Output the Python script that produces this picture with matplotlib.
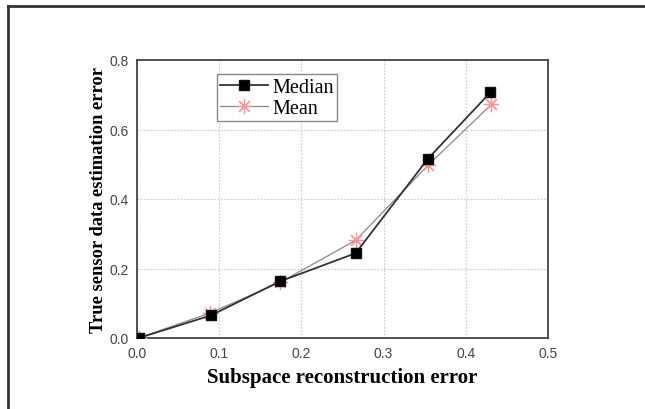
import matplotlib
matplotlib.use("Agg")
import matplotlib.pyplot as plt
from matplotlib.lines import Line2D

x_median = [0.002, 0.090, 0.174, 0.266, 0.354, 0.430]
y_median = [0.000, 0.065, 0.163, 0.244, 0.516, 0.707]
x_mean = [0.002, 0.089, 0.174, 0.266, 0.354, 0.431]
y_mean = [0.000, 0.072, 0.160, 0.281, 0.497, 0.672]
xticks = [0.0, 0.1, 0.2, 0.3, 0.4, 0.5]
yticks = [0.0, 0.2, 0.4, 0.6, 0.8]

fig = plt.figure(figsize=(6.45, 4.10), dpi=100)
ax = fig.add_axes([137/645, 1 - 339/410, 411/645, 278/410])

ax.plot(x_mean, y_mean, color="#888888", lw=0.9, marker=(8, 2, 0), ms=11,
        mec="#f29a9a", mfc="#f29a9a", mew=0.9, label="Mean", zorder=3)
ax.plot(x_median, y_median, color="#333333", lw=1.3, marker="s", ms=7,
        mec="#111111", mfc="black", label="Median", zorder=4)

ax.set_xlim(0, 0.5)
ax.set_ylim(0, 0.8)
ax.set_xticks(xticks)
ax.set_yticks(yticks)
ax.set_xticklabels([f"{v:.1f}" for v in xticks])
ax.set_yticklabels([f"{v:.1f}" for v in yticks])
ax.tick_params(length=0, labelsize=10, labelcolor="#444444")
ax.tick_params(axis="x", pad=6)
ax.tick_params(axis="y", pad=6)
for lbl in ax.get_xticklabels() + ax.get_yticklabels():
    lbl.set_family("Liberation Sans")
ax.grid(True, ls=(0, (1.5, 1.5)), color="#c8c8c8", lw=0.8)
for s in ax.spines.values():
    s.set_color("#444444")
    s.set_linewidth(1.3)

ax.set_xlabel("Subspace reconstruction error", family="Liberation Serif",
              fontweight="bold", fontsize=15, labelpad=5)
ax.set_ylabel("True sensor data estimation error", family="Liberation Serif",
              fontweight="bold", fontsize=13.3, labelpad=2)

handles, labels = ax.get_legend_handles_labels()
leg = ax.legend(handles[::-1], labels[::-1], loc="upper left",
                bbox_to_anchor=(0.195, 0.948), prop={"family": "Liberation Serif", "size": 14.5},
                frameon=True, fancybox=False, framealpha=1, edgecolor="#888888",
                handlelength=2.4, handletextpad=0.2, borderpad=0.15, labelspacing=0.1,
                borderaxespad=0)
leg.get_frame().set_linewidth(1.0)

fig.add_artist(Line2D([8/645, 1], [1 - 7/410, 1 - 7/410], transform=fig.transFigure,
                      color="#333333", lw=2))
fig.add_artist(Line2D([8/645, 8/645], [0, 1 - 7/410], transform=fig.transFigure,
                      color="#333333", lw=2))

fig.savefig("out.png", dpi=100)
